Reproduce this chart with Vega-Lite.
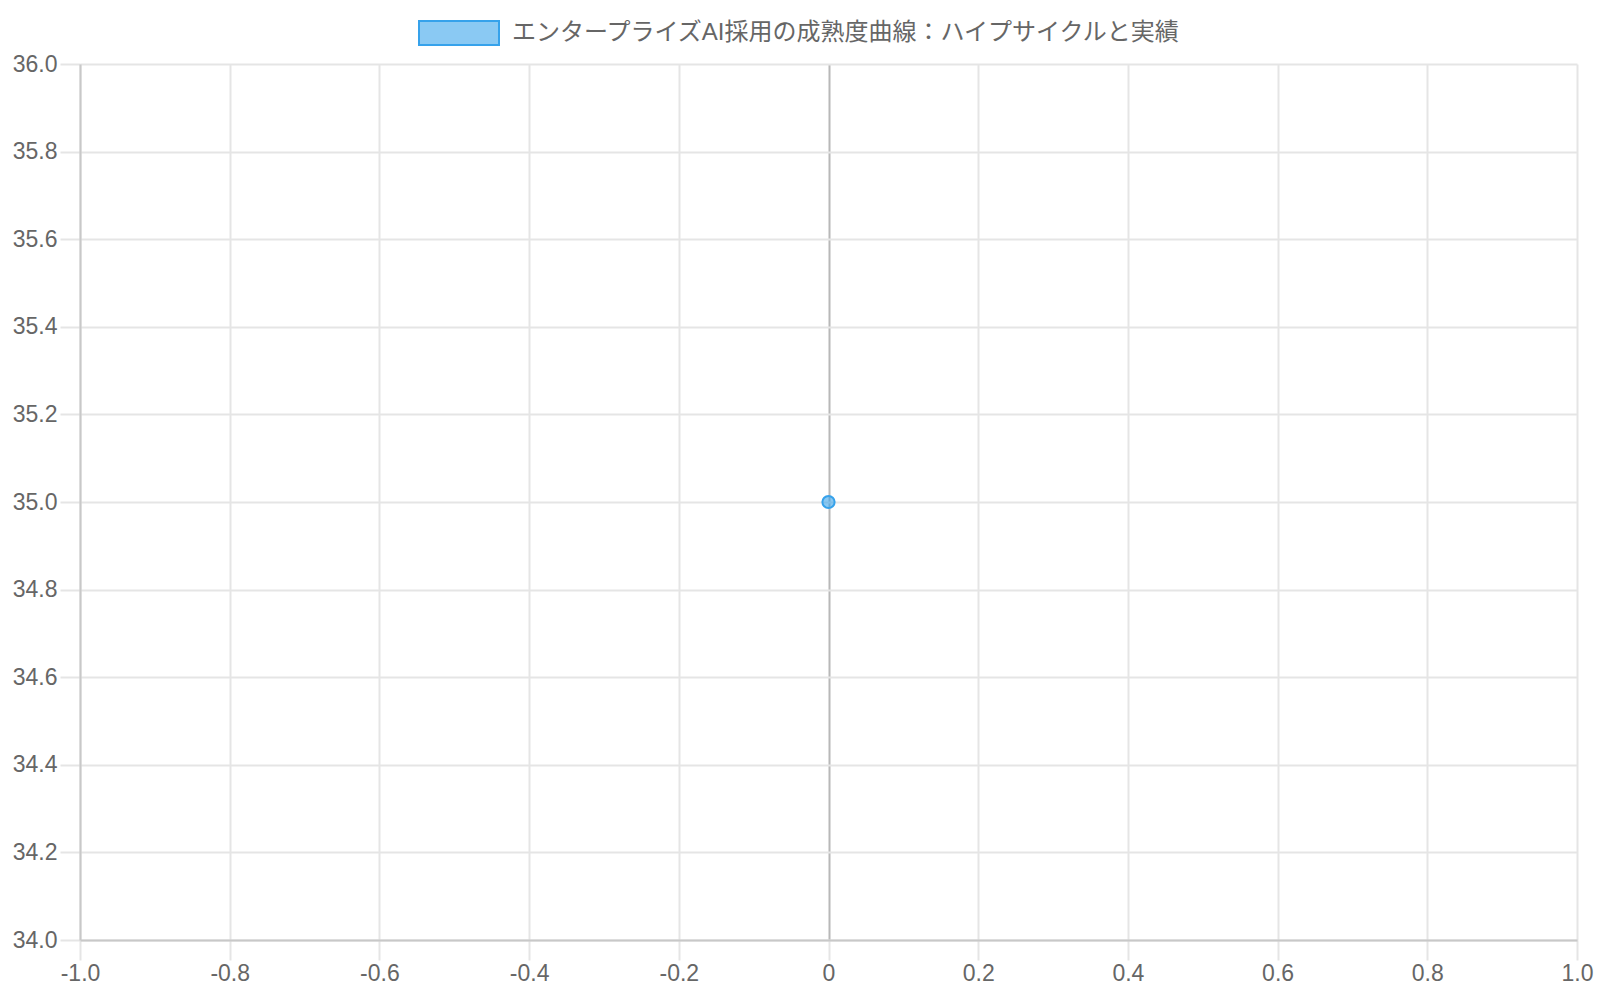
{
  "$schema": "https://vega.github.io/schema/vega-lite/v6.json",
  "width": 1497,
  "height": 876,
  "autosize": {"type": "none"},
  "padding": {"left": 80, "top": 64, "right": 23, "bottom": 60},
  "background": "white",
  "config": {
    "view": {"stroke": null},
    "axis": {
      "labelFont": "Liberation Sans",
      "labelFontSize": 23,
      "labelColor": "#666666",
      "gridColor": "#e5e5e5",
      "gridWidth": 2,
      "tickColor": "#e5e5e5",
      "tickWidth": 2,
      "tickSize": 20,
      "domainColor": "#c8c8c8",
      "domainWidth": 2,
      "title": null
    }
  },
  "data": {
    "values": [
      {"x": 0, "y": 35, "series": "エンタープライズAI採用の成熟度曲線：ハイプサイクルと実績"}
    ]
  },
  "mark": {
    "type": "point",
    "shape": "circle",
    "filled": true,
    "size": 150,
    "stroke": "#36A2EB",
    "strokeWidth": 2,
    "opacity": 1
  },
  "encoding": {
    "x": {
      "field": "x",
      "type": "quantitative",
      "scale": {"domain": [-1, 1], "nice": false, "zero": false},
      "axis": {
        "values": [-1, -0.8, -0.6, -0.4, -0.2, 0, 0.2, 0.4, 0.6, 0.8, 1],
        "labelExpr": "datum.value == 0 ? '0' : replace(format(datum.value, '.1f'), '\u2212', '-')",
        "labelPadding": 2,
        "labelFlush": false,
        "labelOverlap": false,
        "gridColor": {"condition": {"test": "datum.value === 0", "value": "#b8b8b8"}, "value": "#e5e5e5"}
      }
    },
    "y": {
      "field": "y",
      "type": "quantitative",
      "scale": {"domain": [34, 36], "nice": false, "zero": false},
      "axis": {
        "values": [34, 34.2, 34.4, 34.6, 34.8, 35, 35.2, 35.4, 35.6, 35.8, 36],
        "format": ".1f",
        "labelPadding": 3,
        "labelFlush": false,
        "labelOverlap": false
      }
    },
    "fill": {
      "field": "series",
      "type": "nominal",
      "scale": {"range": ["rgba(54,162,235,0.58)"]},
      "legend": {
        "title": null,
        "orient": "none",
        "legendX": 338,
        "legendY": -72,
        "padding": 0,
        "symbolType": "M-1,-0.3H1V0.3H-1Z",
        "symbolSize": 6400,
        "symbolStrokeColor": "#36A2EB",
        "symbolStrokeWidth": 2,
        "symbolOpacity": 1,
        "labelFont": "Liberation Sans, Noto Sans CJK JP",
        "labelFontSize": 24,
        "labelColor": "#666666",
        "labelOffset": 12,
        "labelLimit": 1000
      }
    }
  }
}
